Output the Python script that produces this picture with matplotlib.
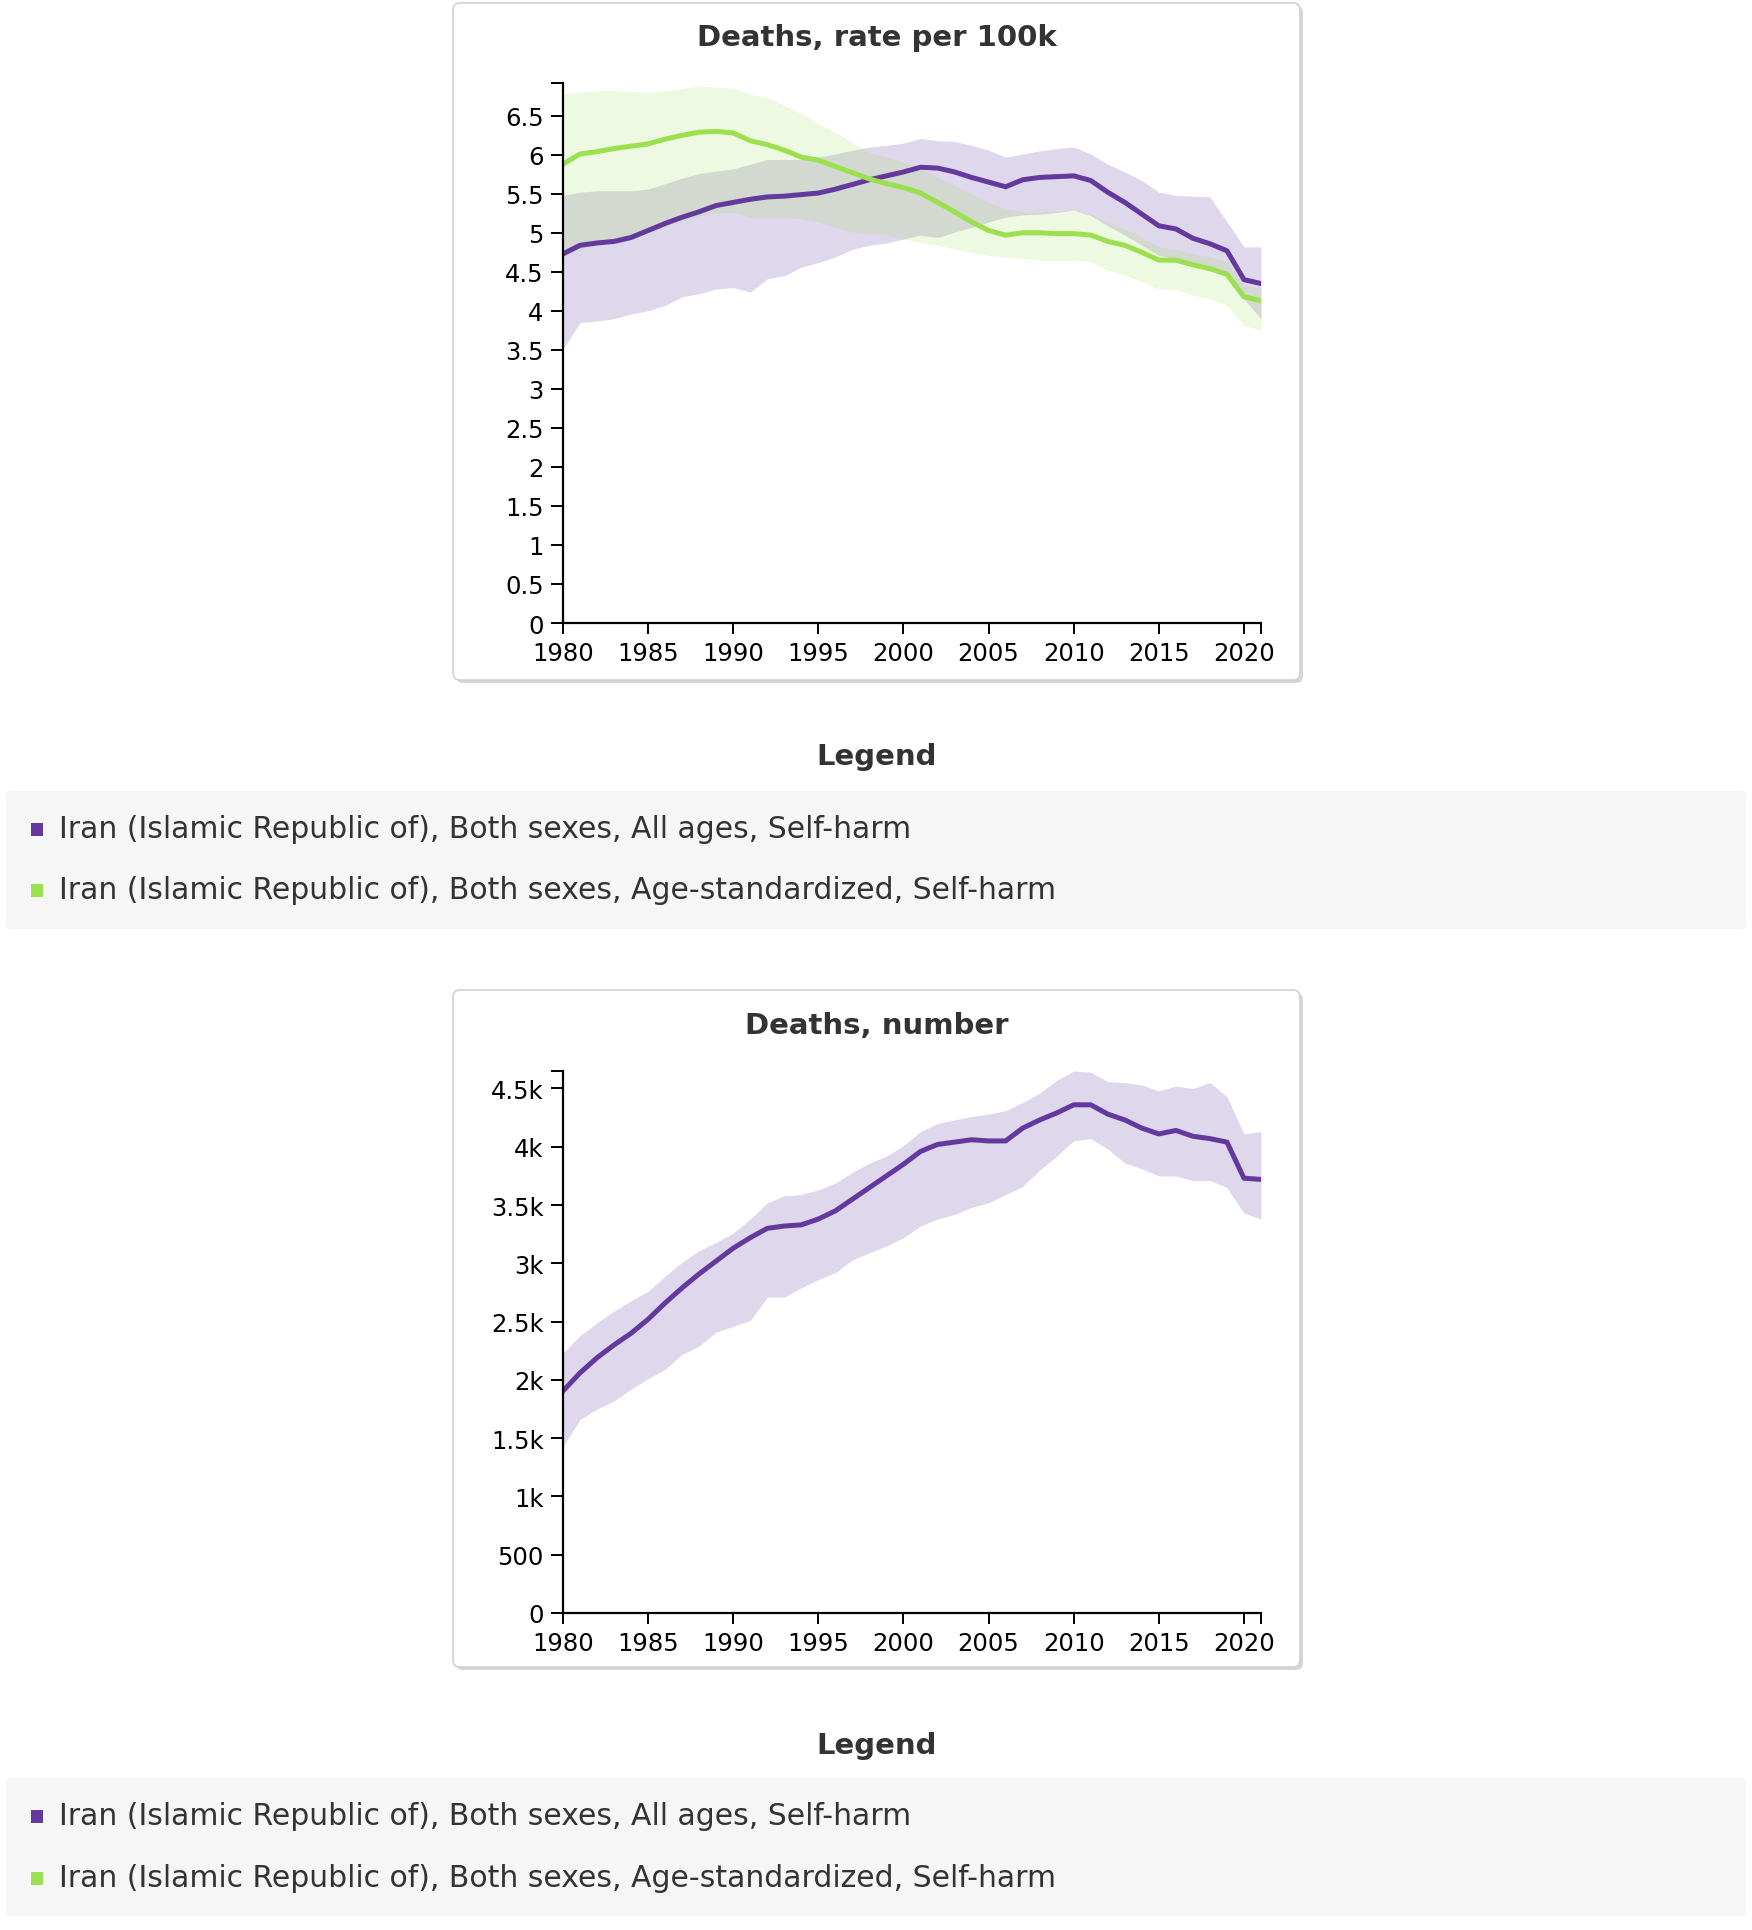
import matplotlib
matplotlib.use('Agg')

import matplotlib.pyplot as plt
from matplotlib.patches import FancyBboxPatch, Rectangle
from matplotlib.transforms import IdentityTransform
from matplotlib.ticker import FuncFormatter
import numpy as np

# data (1980..2021)
years = list(range(1980, 2022))

rate_all = [4.73, 4.84, 4.87, 4.89, 4.94, 5.03, 5.12, 5.20, 5.27, 5.35,
            5.39, 5.43, 5.46, 5.47, 5.49, 5.51, 5.56, 5.62, 5.68, 5.73,
            5.78, 5.84, 5.83, 5.78, 5.71, 5.65, 5.59, 5.68, 5.71, 5.72,
            5.73, 5.67, 5.52, 5.39, 5.24, 5.09, 5.05, 4.93, 4.86, 4.77,
            4.40, 4.35]
rate_all_hi = [5.48, 5.52, 5.54, 5.54, 5.54, 5.56, 5.63, 5.70, 5.76, 5.79,
               5.82, 5.88, 5.94, 5.94, 5.94, 5.97, 6.01, 6.06, 6.10, 6.12,
               6.15, 6.21, 6.18, 6.17, 6.12, 6.06, 5.97, 6.01, 6.05, 6.08,
               6.10, 6.01, 5.88, 5.78, 5.67, 5.52, 5.48, 5.47, 5.46, 5.14,
               4.82, 4.82]
rate_all_lo = [3.51, 3.85, 3.87, 3.90, 3.96, 4.00, 4.07, 4.18, 4.22, 4.28,
               4.30, 4.24, 4.41, 4.45, 4.56, 4.62, 4.69, 4.79, 4.84, 4.87,
               4.92, 4.97, 4.94, 5.01, 5.07, 5.14, 5.20, 5.23, 5.24, 5.26,
               5.29, 5.22, 5.09, 4.97, 4.84, 4.71, 4.67, 4.60, 4.54, 4.47,
               4.15, 3.90]

rate_std = [5.88, 6.01, 6.04, 6.08, 6.11, 6.14, 6.20, 6.25, 6.29, 6.30,
            6.28, 6.18, 6.13, 6.06, 5.97, 5.93, 5.85, 5.77, 5.69, 5.63,
            5.58, 5.51, 5.39, 5.27, 5.14, 5.03, 4.97, 5.00, 5.00, 4.99,
            4.99, 4.97, 4.89, 4.84, 4.75, 4.65, 4.65, 4.59, 4.54, 4.47,
            4.18, 4.13]
rate_std_hi = [6.78, 6.80, 6.82, 6.82, 6.81, 6.80, 6.82, 6.85, 6.88, 6.87,
               6.85, 6.78, 6.73, 6.63, 6.53, 6.40, 6.29, 6.16, 6.03, 5.97,
               5.91, 5.82, 5.71, 5.61, 5.50, 5.39, 5.31, 5.27, 5.27, 5.28,
               5.29, 5.24, 5.14, 5.05, 4.94, 4.82, 4.79, 4.73, 4.69, 4.63,
               4.33, 4.29]
rate_std_lo = [4.70, 4.80, 4.85, 4.88, 4.93, 5.00, 5.08, 5.15, 5.22, 5.26,
               5.26, 5.20, 5.19, 5.20, 5.18, 5.14, 5.07, 5.01, 4.99, 4.97,
               4.92, 4.88, 4.84, 4.79, 4.75, 4.71, 4.69, 4.67, 4.65, 4.65,
               4.65, 4.63, 4.52, 4.46, 4.37, 4.28, 4.27, 4.20, 4.15, 4.07,
               3.81, 3.75]

deaths = [1905, 2060, 2190, 2300, 2400, 2520, 2660, 2790, 2910, 3020,
          3130, 3220, 3300, 3320, 3330, 3380, 3450, 3550, 3650, 3750,
          3850, 3960, 4020, 4040, 4060, 4050, 4050, 4160, 4230, 4290,
          4360, 4360, 4280, 4230, 4160, 4110, 4140, 4090, 4070, 4040,
          3730, 3720]
deaths_hi = [2230, 2380, 2490, 2590, 2680, 2760, 2890, 3010, 3110, 3180,
             3260, 3380, 3520, 3580, 3590, 3630, 3690, 3780, 3860, 3920,
             4010, 4130, 4200, 4230, 4260, 4280, 4310, 4380, 4460, 4570,
             4650, 4640, 4560, 4550, 4530, 4480, 4520, 4500, 4550, 4430,
             4110, 4130]
deaths_lo = [1430, 1660, 1750, 1820, 1920, 2010, 2090, 2220, 2290, 2410,
             2460, 2510, 2710, 2710, 2790, 2860, 2920, 3030, 3090, 3150,
             3220, 3320, 3380, 3420, 3480, 3520, 3590, 3660, 3800, 3920,
             4050, 4070, 3980, 3860, 3810, 3750, 3750, 3710, 3710, 3650,
             3430, 3380]

legend_labels = ['Iran (Islamic Republic of), Both sexes, All ages, Self-harm',
                 'Iran (Islamic Republic of), Both sexes, Age-standardized, Self-harm']

PURPLE = '#63399e'
GREEN = '#9be04f'
TXT = '#333333'

W, H = 1752, 1931
fig = plt.figure(figsize=(W / 100, H / 100), dpi=100)
fig.patch.set_facecolor('white')
plt.rcParams['font.family'] = ['DejaVu Sans']


def box(x0, y0, x1, y1, fc, ec='none', r=6, z=-10, lw=1.0):
    p = FancyBboxPatch((x0, H - y1), x1 - x0, y1 - y0,
                       boxstyle='round,pad=0,rounding_size=%d' % r,
                       fc=fc, ec=ec, lw=lw, transform=IdentityTransform(), zorder=z)
    fig.add_artist(p)


def ftext(x, y, s, **kw):
    fig.text(x, H - y, s, transform=IdentityTransform(), **kw)


def panel(y0, y1):
    box(456, y0 + 3, 1303, y1 + 3, '#d6d6d6', r=7, z=-12)
    box(453, y0, 1300, y1, 'white', ec='#d2d2d2', r=7, z=-11, lw=1.2)


def make_axes(ytop_px, ybot_px):
    ax = fig.add_axes([563 / W, 1 - ybot_px / H, 698 / W, (ybot_px - ytop_px) / H])
    ax.set_facecolor('none')
    for s in ['top', 'right']:
        ax.spines[s].set_visible(False)
    for s in ['left', 'bottom']:
        ax.spines[s].set_linewidth(1.6)
        ax.spines[s].set_color('black')
    ax.set_xlim(1980, 2021)
    ax.set_xticks(range(1980, 2021, 5))
    ax.set_xticks([2021], minor=True)
    ax.tick_params(axis='both', which='both', direction='out', width=1.4,
                   color='black', labelsize=17.5, labelcolor='black', pad=5)
    ax.tick_params(axis='y', which='both', length=9)
    ax.tick_params(axis='x', which='both', length=8)
    return ax


# ---- top chart: rate per 100k ----
panel(4, 681)
ftext(877, 38, 'Deaths, rate per 100k', ha='center', va='center',
      fontsize=21, fontweight='bold', color=TXT)
ax1 = make_axes(84, 624)
ax1.fill_between(years, rate_all_lo, rate_all_hi, color=PURPLE, alpha=0.2, lw=0)
ax1.plot(years, rate_all, color=PURPLE, lw=3.6, solid_joinstyle='round')
ax1.fill_between(years, rate_std_lo, rate_std_hi, color=GREEN, alpha=0.17, lw=0)
ax1.plot(years, rate_std, color=GREEN, lw=3.6, solid_joinstyle='round')
ax1.set_ylim(0, 6.92)
ax1.set_yticks(np.arange(0, 6.6, 0.5))
ax1.set_yticks([6.92], minor=True)
ax1.yaxis.set_major_formatter(FuncFormatter(lambda v, p: '%g' % v))

# ---- bottom chart: number ----
panel(991, 1668)
ftext(877, 1026, 'Deaths, number', ha='center', va='center',
      fontsize=21, fontweight='bold', color=TXT)
ax2 = make_axes(1072, 1614)
ax2.fill_between(years, deaths_lo, deaths_hi, color=PURPLE, alpha=0.2, lw=0)
ax2.plot(years, deaths, color=PURPLE, lw=3.6, solid_joinstyle='round')
ax2.set_ylim(0, 4650)
ax2.set_yticks(range(0, 4501, 500))
ax2.set_yticks([4650], minor=True)
ax2.yaxis.set_major_formatter(FuncFormatter(
    lambda v, p: '0' if v == 0 else ('%g' % v if v < 1000 else '%gk' % (v / 1000))))


# ---- legends ----
def legend(title_y, y0, y1, rows):
    ftext(877, title_y, 'Legend', ha='center', va='center',
          fontsize=21, fontweight='bold', color=TXT)
    box(6, y0, 1746, y1, '#f6f6f6', r=4)
    for (ry, col, lab) in rows:
        fig.add_artist(Rectangle((31, H - ry - 7), 12, 13, fc=col, ec='none',
                                 transform=IdentityTransform(), zorder=5))
        ftext(59, ry, lab, ha='left', va='center', fontsize=21.5, color=TXT)


legend(757, 792, 930, [(830, PURPLE, legend_labels[0]), (891, GREEN, legend_labels[1])])
legend(1746, 1779, 1917, [(1817, PURPLE, legend_labels[0]), (1879, GREEN, legend_labels[1])])

fig.savefig('out.png', dpi=100, facecolor='white')
